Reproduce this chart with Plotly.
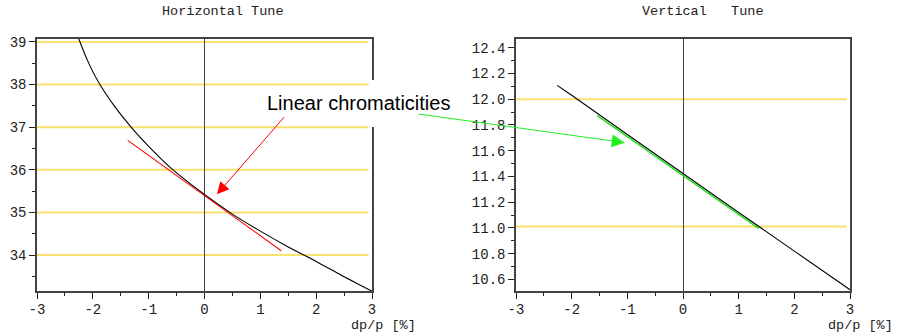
import plotly.graph_objects as go

# ---------------- data ----------------
# Horizontal tune vs momentum deviation dp/p [%]
h_dp = [-2.25, -2.1, -1.9, -1.6, -1.3, -1.0, -0.6, 0.0, 0.5, 1.0, 1.5, 2.0, 2.5, 3.0]
h_tune = [39.07, 38.58, 38.06, 37.47, 36.98, 36.55, 36.04, 35.42, 34.96, 34.56, 34.19, 33.85, 33.49, 33.15]
# linear chromaticity line (horizontal)
h_lin_dp = [-1.375, 1.375]
h_lin_tune = [36.69, 34.10]

# Vertical tune vs dp/p [%]
v_dp = [-2.26, -2.0, -1.0, 0.0, 1.0, 2.0, 3.0]
v_tune = [12.107, 12.03, 11.725, 11.42, 11.12, 10.82, 10.52]
# linear chromaticity line (vertical)
v_lin_dp = [-1.54, 1.36]
v_lin_tune = [11.872, 10.997]

# integer-tune reference lines
h_ref = [34, 35, 36, 37, 38, 39]
v_ref = [11.01, 12.0]
ref_end = 2.94

x_ticks = [-3, -2, -1, 0, 1, 2, 3]
x_tick_labels = ["-3", "-2", "-1", "0", "1", "2", "3"]
h_ticks = [34, 35, 36, 37, 38, 39]
h_tick_labels = ["34", "35", "36", "37", "38", "39"]
v_ticks = [10.6, 10.8, 11.0, 11.2, 11.4, 11.6, 11.8, 12.0, 12.2, 12.4]
v_tick_labels = ["10.6", "10.8", "11.0", "11.2", "11.4", "11.6", "11.8", "12.0", "12.2", "12.4"]

# ---------------- layout helpers ----------------
W, H = 898, 334


def px(x):
    return x / W


def py(y):
    return 1 - y / H


MONO = "Liberation Mono, DejaVu Sans Mono, monospace"
TXT = "#222222"
FRAME = "#444444"
YELLOW = "#FAE06E"

fig = go.Figure()

fig.add_trace(go.Scatter(x=h_dp, y=h_tune, mode="lines",
                         line=dict(color="black", width=1.1, shape="spline", smoothing=0.8),
                         xaxis="x", yaxis="y", hoverinfo="skip"))
fig.add_trace(go.Scatter(x=h_lin_dp, y=h_lin_tune, mode="lines", line=dict(color="#FF0000", width=1.1),
                         xaxis="x", yaxis="y", hoverinfo="skip"))
fig.add_trace(go.Scatter(x=v_dp, y=v_tune, mode="lines", line=dict(color="black", width=1.1),
                         xaxis="x2", yaxis="y2", hoverinfo="skip"))
fig.add_trace(go.Scatter(x=v_lin_dp, y=v_lin_tune, mode="lines", line=dict(color="#22DD22", width=1.6),
                         xaxis="x2", yaxis="y2", hoverinfo="skip"))

shapes = []
for v in h_ref:
    shapes.append(dict(type="line", xref="x", yref="y", x0=-3, x1=ref_end, y0=v, y1=v,
                       line=dict(color=YELLOW, width=2), layer="below"))
for v in v_ref:
    shapes.append(dict(type="line", xref="x2", yref="y2", x0=-3, x1=ref_end, y0=v, y1=v,
                       line=dict(color=YELLOW, width=2), layer="below"))
# gap in the left frame behind the label
shapes.append(dict(type="rect", xref="paper", yref="paper",
                   x0=px(369), x1=px(376), y0=py(127), y1=py(80),
                   fillcolor="white", line=dict(width=0), layer="above"))


def xaxis(domain, anchor):
    return dict(domain=domain, anchor=anchor, range=[-3, 3], tickmode="array",
                tickvals=x_ticks, ticktext=x_tick_labels, ticks="outside", ticklen=6,
                tickwidth=1.3, tickcolor=TXT, ticklabelstandoff=-2,
                minor=dict(dtick=0.5, tick0=0, ticks="outside", ticklen=3, tickwidth=1.3, tickcolor=TXT),
                showline=True, linecolor=FRAME, linewidth=1.5, mirror=True,
                showgrid=False, zeroline=True, zerolinecolor=FRAME, zerolinewidth=1.4,
                tickfont=dict(family=MONO, size=14, color=TXT), automargin=False, fixedrange=True)


def yaxis(domain, anchor, rng, tv, tt, minor_dtick, minor_tick0):
    return dict(domain=domain, anchor=anchor, range=rng, tickmode="array",
                tickvals=tv, ticktext=tt, ticks="outside", ticklen=6, tickwidth=1.3, tickcolor=TXT,
                minor=dict(dtick=minor_dtick, tick0=minor_tick0, ticks="outside", ticklen=3,
                           tickwidth=1.3, tickcolor=TXT),
                showline=True, linecolor=FRAME, linewidth=1.5, mirror=True,
                showgrid=False, zeroline=False,
                tickfont=dict(family=MONO, size=14, color=TXT), automargin=False, fixedrange=True)


ydom = [py(291), py(39)]

annotations = [
    dict(text="Horizontal Tune", xref="paper", yref="paper", x=px(222.5), y=py(12),
         showarrow=False, xanchor="center", yanchor="middle",
         font=dict(family=MONO, size=13.5, color=TXT)),
    dict(text="Vertical\u00a0\u00a0\u00a0Tune", xref="paper", yref="paper", x=px(703), y=py(12),
         showarrow=False, xanchor="center", yanchor="middle",
         font=dict(family=MONO, size=13.5, color=TXT)),
    dict(text="dp/p [%]", xref="paper", yref="paper", x=px(383), y=0,
         showarrow=False, xanchor="center", yanchor="bottom", borderpad=0,
         font=dict(family=MONO, size=13.5, color=TXT)),
    dict(text="dp/p [%]", xref="paper", yref="paper", x=px(860), y=0,
         showarrow=False, xanchor="center", yanchor="bottom", borderpad=0,
         font=dict(family=MONO, size=13.5, color=TXT)),
    dict(text="Linear chromaticities", xref="paper", yref="paper", x=px(358), y=py(103),
         showarrow=False, xanchor="center", yanchor="middle",
         font=dict(family="Liberation Sans, Arial, sans-serif", size=20, color="black")),
    # red arrow
    dict(text="", xref="x", yref="y", x=0.223, y=35.425, axref="x", ayref="y", ax=1.449, ay=37.27,
         showarrow=True, arrowhead=2, arrowsize=2.4, arrowwidth=1, arrowcolor="#FF0000", standoff=0),
    # green arrow
    dict(text="", xref="x2", yref="y2", x=-1.047, y=11.662, axref="x2", ayref="y2", ax=-4.776, ay=11.886,
         showarrow=True, arrowhead=2, arrowsize=2.6, arrowwidth=1, arrowcolor="#22EE22", standoff=0),
]

fig.update_layout(
    width=W, height=H, autosize=False, template="none",
    margin=dict(l=0, r=0, t=0, b=0),
    paper_bgcolor="white", plot_bgcolor="white", showlegend=False,
    xaxis=xaxis([px(37), px(372)], "y"),
    yaxis=yaxis(ydom, "x", [33.155, 39.07], h_ticks, h_tick_labels, 0.5, 0),
    xaxis2=xaxis([px(516), px(850)], "y2"),
    yaxis2=yaxis(ydom, "x2", [10.51, 12.467], v_ticks, v_tick_labels, 0.1, 0),
    shapes=shapes, annotations=annotations,
)

fig.write_html("out.html", config={"displayModeBar": False},
               post_script="document.body.style.margin='0';document.body.style.overflow='hidden';")
